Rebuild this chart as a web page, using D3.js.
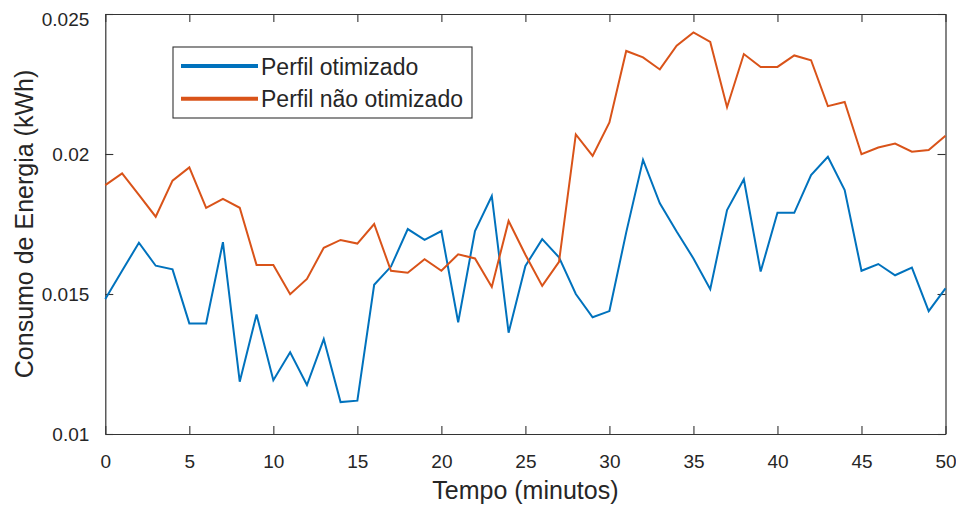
<!DOCTYPE html>
<html>
<head>
<meta charset="utf-8">
<script src="https://cdn.jsdelivr.net/npm/d3@7"></script>
<style>
  html, body { margin: 0; padding: 0; background: #fff; }
  svg { display: block; font-family: "Liberation Sans", Arial, sans-serif; }
</style>
</head>
<body>
<svg id="chart" width="956" height="508"></svg>
<script>
// Time axis (minutes)
const minutes = d3.range(0, 51);

// Energy per minute, optimized profile (kWh)
const otimizado = [
  0.01482, 0.01583, 0.01683, 0.01601, 0.01588, 0.01395, 0.01395, 0.01685, 0.01187, 0.01427,
  0.01192, 0.01292, 0.01175, 0.01339, 0.01114, 0.01119, 0.01533, 0.01598, 0.01732, 0.01693,
  0.01725, 0.01399, 0.01725, 0.01850, 0.01362, 0.01600, 0.01696, 0.01631, 0.01500, 0.01417,
  0.01439, 0.01720, 0.01979, 0.01824, 0.01723, 0.01627, 0.01517, 0.01800, 0.01910, 0.01580,
  0.01790, 0.01790, 0.01925, 0.01990, 0.01871, 0.01583, 0.01607, 0.01567, 0.01594, 0.01439,
  0.01520
];

// Energy per minute, non-optimized profile (kWh)
const naoOtimizado = [
  0.01889, 0.01931, 0.01854, 0.01776, 0.01905, 0.01952, 0.01808, 0.01840, 0.01808, 0.01604,
  0.01604, 0.01499, 0.01554, 0.01665, 0.01693, 0.01680, 0.01750, 0.01583, 0.01576, 0.01624,
  0.01583, 0.01642, 0.01627, 0.01525, 0.01761, 0.01640, 0.01529, 0.01615, 0.02070, 0.01993,
  0.02113, 0.02368, 0.02345, 0.02302, 0.02387, 0.02434, 0.02400, 0.02167, 0.02357, 0.02311,
  0.02311, 0.02352, 0.02335, 0.02171, 0.02186, 0.01999, 0.02023, 0.02037, 0.02008, 0.02014,
  0.02065
];

const xTicks = [0, 5, 10, 15, 20, 25, 30, 35, 40, 45, 50];
const yTicks = [0.01, 0.015, 0.02, 0.025];
const yTickLabels = ["0.01", "0.015", "0.02", "0.025"];

const seriesNames = ["Perfil otimizado", "Perfil não otimizado"];
const seriesColors = ["#0072BD", "#D95319"];

const svg = d3.select("#chart");
const plot = { left: 105.3, right: 945.5, top: 14, bottom: 434 };

const x = d3.scaleLinear().domain([0, 50]).range([plot.left, plot.right]);
const y = d3.scaleLinear().domain([0.01, 0.025]).range([plot.bottom, plot.top]);

const axisColor = "#333";
const textColor = "#262626";
const tickLen = 8;

// Frame axes with inward ticks on all four sides
const bottomAxis = svg.append("g").attr("transform", `translate(0,${plot.bottom})`)
  .call(d3.axisBottom(x).tickValues(xTicks).tickSizeInner(-tickLen).tickSizeOuter(0).tickPadding(20.5).tickFormat(d3.format("d")));
const topAxis = svg.append("g").attr("transform", `translate(0,${plot.top})`)
  .call(d3.axisTop(x).tickValues(xTicks).tickSizeInner(-tickLen).tickSizeOuter(0).tickFormat(""));
const leftAxis = svg.append("g").attr("transform", `translate(${plot.left},0)`)
  .call(d3.axisLeft(y).tickValues(yTicks).tickSizeInner(-tickLen).tickSizeOuter(0).tickPadding(16)
    .tickFormat((d, i) => yTickLabels[i]));
const rightAxis = svg.append("g").attr("transform", `translate(${plot.right},0)`)
  .call(d3.axisRight(y).tickValues(yTicks).tickSizeInner(-tickLen).tickSizeOuter(0).tickFormat(""));

[bottomAxis, topAxis, leftAxis, rightAxis].forEach(g => {
  g.select(".domain").attr("stroke", axisColor).attr("stroke-width", 1.2);
  g.selectAll(".tick line").attr("stroke", axisColor).attr("stroke-width", 1.1);
  g.selectAll(".tick text").attr("fill", textColor).attr("font-size", 19)
    .attr("font-family", "'Liberation Sans', Arial, sans-serif");
});
// keep the topmost y label inside the canvas
leftAxis.selectAll(".tick text").filter(d => d === 0.025).attr("dy", "0.62em");

// Data lines
const line = d3.line().x((d, i) => x(minutes[i])).y(d => y(d));
[otimizado, naoOtimizado].forEach((vals, k) => {
  svg.append("path")
    .datum(vals)
    .attr("fill", "none")
    .attr("stroke", seriesColors[k])
    .attr("stroke-width", 2)
    .attr("stroke-linejoin", "miter")
    .attr("d", line);
});

// Legend
const legend = svg.append("g");
legend.append("rect")
  .attr("x", 173).attr("y", 47).attr("width", 299).attr("height", 71)
  .attr("fill", "#fff").attr("stroke", axisColor).attr("stroke-width", 1.1);
seriesNames.forEach((name, k) => {
  const ly = 66 + k * 32.7;
  legend.append("line")
    .attr("x1", 181).attr("x2", 258).attr("y1", ly).attr("y2", ly)
    .attr("stroke", seriesColors[k]).attr("stroke-width", 4);
  legend.append("text")
    .attr("x", 261).attr("y", ly + 8.5)
    .attr("font-size", 23).attr("fill", textColor)
    .text(name);
});

// Axis titles
svg.append("text")
  .attr("x", (plot.left + plot.right) / 2).attr("y", 499)
  .attr("text-anchor", "middle").attr("font-size", 25).attr("fill", textColor)
  .text("Tempo (minutos)");
svg.append("text")
  .attr("transform", `translate(33,${(plot.top + plot.bottom) / 2}) rotate(-90)`)
  .attr("text-anchor", "middle").attr("font-size", 25).attr("fill", textColor)
  .text("Consumo de Energia (kWh)");
</script>
</body>
</html>
